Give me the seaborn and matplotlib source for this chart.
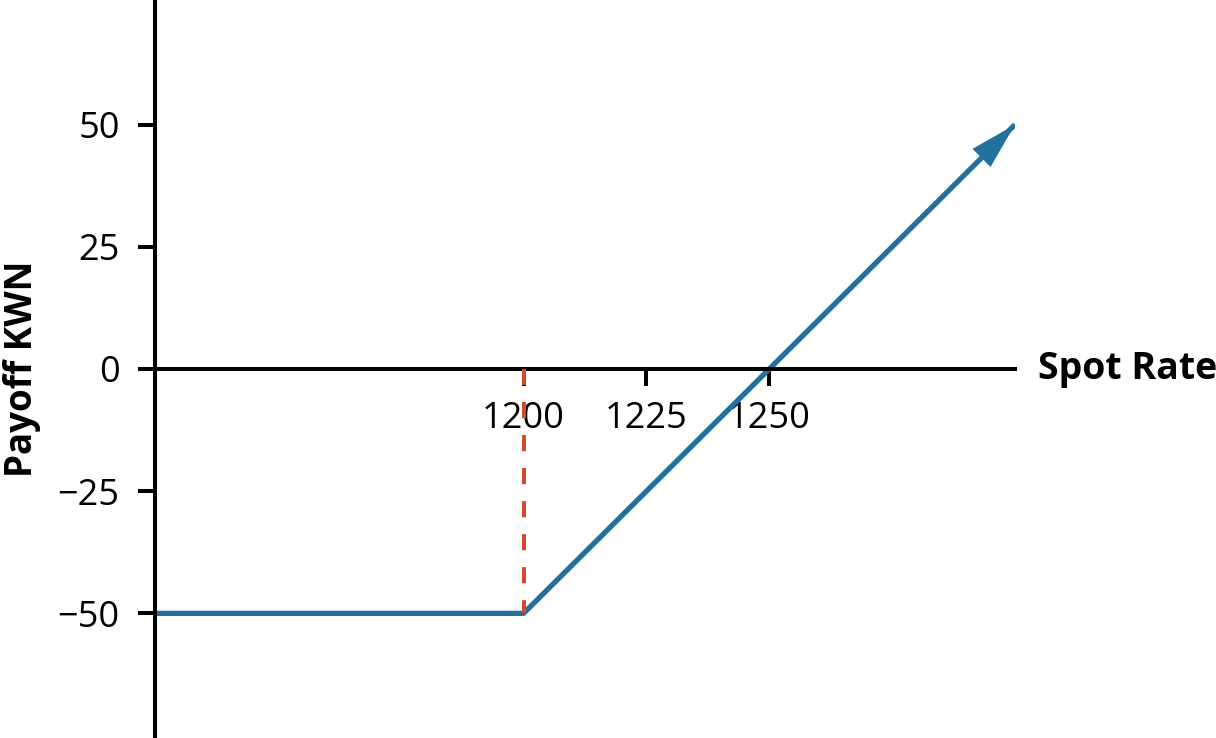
import matplotlib
matplotlib.use("Agg")
import matplotlib.pyplot as plt
import seaborn as sns

# ---- data ----
spot = [1125, 1200, 1300]
payoff = [-50, -50, 50]
strike_x = [1200, 1200]
strike_y = [0, -50]
xticks = [1200, 1225, 1250]
yticks = [-50, -25, 0, 25, 50]
xlabel = "Spot Rate"
ylabel = "Payoff KWN"

BLUE = "#22719d"
RED = "#d04a2e"

sns.set_style("ticks")
plt.rcParams["font.family"] = ["Open Sans", "DejaVu Sans"]
plt.rcParams["text.color"] = "black"
plt.rcParams["axes.labelcolor"] = "black"

W, H = 1216, 738
fig = plt.figure(figsize=(W / 100, H / 100), dpi=100)
ax = fig.add_axes([155 / W, 0, (1015 - 155) / W, 1])

sns.lineplot(x=spot, y=payoff, color=BLUE, lw=3.8, ax=ax,
             estimator=None, sort=False, solid_capstyle="butt", zorder=2)
sns.lineplot(x=strike_x, y=strike_y, color=RED, lw=2.9, ax=ax,
             estimator=None, sort=False, dashes=False, zorder=3)
ax.lines[-1].set_dashes((4, 4.2))

# arrow head at the end of the payoff line
ax.annotate("", xy=(spot[-1], payoff[-1]), xytext=(spot[-2], payoff[-2]),
            arrowprops=dict(arrowstyle="-|>,head_length=3.4,head_width=0.92",
                            color=BLUE, lw=0, shrinkA=0, shrinkB=0,
                            mutation_scale=10), zorder=4)

ax.set_xlim(1125, 1300)
ax.set_ylim(-75.5, 75.5)
ax.set_xticks(xticks)
ax.set_yticks(yticks)

for s in ["top", "right"]:
    ax.spines[s].set_visible(False)
ax.spines["bottom"].set_position(("data", 0))
for s in ["left", "bottom"]:
    ax.spines[s].set_linewidth(2.9)
    ax.spines[s].set_color("black")

ax.tick_params(axis="x", length=12.4, width=2.9, pad=11, labelsize=26,
               colors="black", labelcolor="black", direction="out")
ax.tick_params(axis="y", length=12.4, width=2.9, pad=13, labelsize=26,
               colors="black", labelcolor="black", direction="out")

ax.set_ylabel(ylabel, fontsize=26.5, fontweight="bold", color="black")
ax.yaxis.set_label_coords(-0.132, 0.5)

ax.set_xlabel(xlabel, fontsize=27, fontweight="bold", color="black")
ax.xaxis.set_label_coords(1.0267, 0.5)
ax.xaxis.label.set_ha("left")
ax.xaxis.label.set_va("center")

ax.patch.set_alpha(0)
fig.savefig("out.png", dpi=100)
